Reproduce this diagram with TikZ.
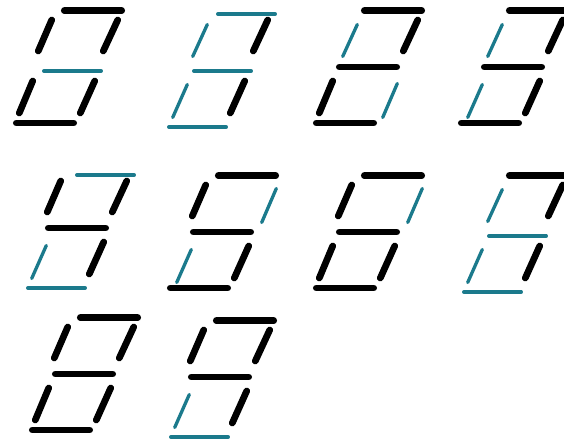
\documentclass[tikz,border=0pt]{standalone}
\definecolor{segoff}{HTML}{1B7A8C}
\tikzset{
  onseg/.style={draw=black,line width=6.7pt,line cap=round},
  offseg/.style={draw=segoff,line width=3.3pt,line cap=round}
}
% segment centerlines (frame coordinates, px)
\newcommand{\segon}[1]{%
  \ifcase#1
    \draw[onseg] (64.3,10.7) -- (121.7,10.7);\or % a
    \draw[onseg] (117.7,20) -- (103.3,51);\or    % b
    \draw[onseg] (94.7,81) -- (80.3,113);\or     % c
    \draw[onseg] (16.3,123) -- (73.7,123);\or    % d
    \draw[onseg] (32.7,81) -- (19.3,113);\or     % e
    \draw[onseg] (51.7,20) -- (38.3,51);\or      % f
    \draw[onseg] (39.3,67) -- (96.7,67);\fi}     % g
\newcommand{\segoffdraw}[1]{%
  \ifcase#1
    \draw[offseg] (67.7,14) -- (125.3,14);\or
    \draw[offseg] (122.3,23.5) -- (107.7,57.5);\or
    \draw[offseg] (97.3,83.5) -- (82.7,117.5);\or
    \draw[offseg] (18.7,127) -- (76.3,127);\or
    \draw[offseg] (37.3,84.5) -- (22.7,117.5);\or
    \draw[offseg] (57.3,24.5) -- (42.7,56.5);\or
    \draw[offseg] (43.7,71) -- (101.3,71);\fi}
% #1 #2 offset, #3..: 7 flags a b c d e f g (1 = on)
\newcommand{\digitat}[3]{%
  \begin{scope}[shift={(#1,#2)}]
    \foreach \s [count=\i from 0] in {#3} {\ifnum\s=0 \segoffdraw{\i}\fi}
    \foreach \s [count=\i from 0] in {#3} {\ifnum\s=1 \segon{\i}\fi}
  \end{scope}}
\begin{document}
\begin{tikzpicture}[x=1pt,y=-1pt]
\useasboundingbox (0,0) rectangle (564,441);
% digits 0..9, flags: a,b,c,d,e,f,g
\digitat{0}{0}{1,1,1,1,1,1,0}
\digitat{150}{0}{0,1,1,0,0,0,0}
\digitat{300}{0}{1,1,0,1,1,0,1}
\digitat{445}{0}{1,1,1,1,0,0,1}
\digitat{9}{161}{0,1,1,0,0,1,1}
\digitat{154}{165}{1,0,1,1,0,1,1}
\digitat{300}{165}{1,0,1,1,1,1,1}
\digitat{445}{165}{1,1,1,0,0,0,0}
\digitat{16}{307}{1,1,1,1,1,1,1}
\digitat{152}{310}{1,1,1,0,0,1,1}
\end{tikzpicture}
\end{document}
